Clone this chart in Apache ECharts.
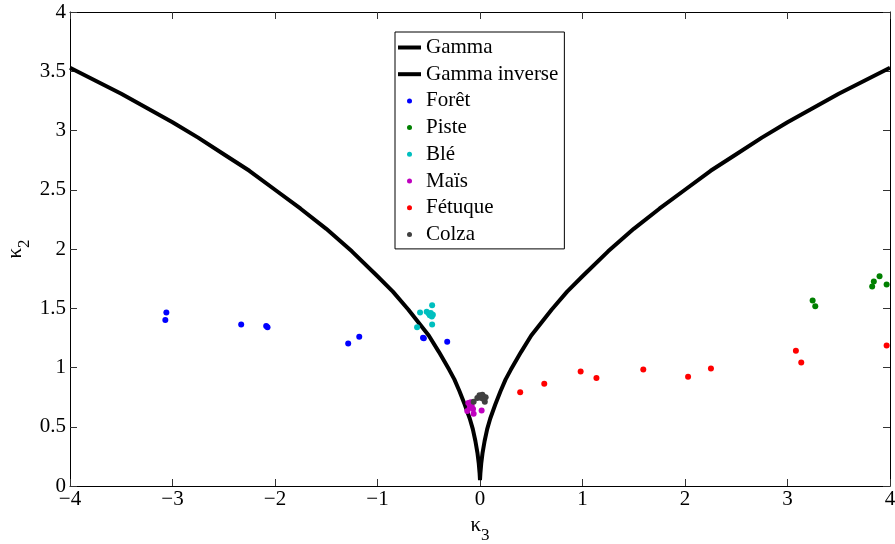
<!DOCTYPE html>
<html>
<head>
<meta charset="utf-8">
<title>kappa3 - kappa2</title>
<script src="https://cdn.jsdelivr.net/npm/echarts/dist/echarts.min.js"></script>
<style>
  html, body { margin: 0; padding: 0; background: #fff; }
  #chart { width: 895px; height: 544px; }
</style>
</head>
<body>
<div id="chart"></div>
<script>
// courbes théoriques (kappa3, kappa2)
var gammaCurve = [
  [-4, 3.53], [-3.75, 3.42], [-3.5, 3.31], [-3.25, 3.19], [-3, 3.07], [-2.75, 2.94],
  [-2.5, 2.8], [-2.25, 2.66], [-2, 2.5], [-1.75, 2.34], [-1.5, 2.17], [-1.25, 1.98],
  [-1, 1.77], [-0.85, 1.64], [-0.7, 1.49], [-0.6, 1.38], [-0.5, 1.27], [-0.4, 1.13],
  [-0.3, 0.98], [-0.25, 0.9], [-0.2, 0.8], [-0.15, 0.69], [-0.1, 0.57], [-0.07, 0.48],
  [-0.045, 0.38], [-0.025, 0.28], [-0.012, 0.19], [-0.004, 0.11], [0, 0.05]
];
var gammaInvCurve = [
  [0, 0.05], [0.004, 0.11], [0.012, 0.19], [0.025, 0.28], [0.045, 0.38], [0.07, 0.48],
  [0.1, 0.57], [0.15, 0.69], [0.2, 0.8], [0.25, 0.9], [0.3, 0.98], [0.4, 1.13],
  [0.5, 1.27], [0.6, 1.38], [0.7, 1.49], [0.85, 1.64], [1, 1.77], [1.25, 1.98],
  [1.5, 2.17], [1.75, 2.34], [2, 2.5], [2.25, 2.66], [2.5, 2.8], [2.75, 2.94],
  [3, 3.07], [3.25, 3.19], [3.5, 3.31], [3.75, 3.42], [4, 3.53]
];

// mesures par culture
var foret = [
  [-3.06, 1.464], [-3.07, 1.40], [-2.33, 1.362], [-2.086, 1.35], [-2.073, 1.339],
  [-1.286, 1.203], [-1.178, 1.26], [-0.556, 1.251], [-0.548, 1.246], [-0.32, 1.218]
];
var piste = [
  [3.245, 1.565], [3.271, 1.517], [3.826, 1.684], [3.842, 1.726], [3.898, 1.771], [3.967, 1.701]
];
var ble = [
  [-0.585, 1.464], [-0.614, 1.339], [-0.467, 1.525], [-0.52, 1.47], [-0.5, 1.455],
  [-0.48, 1.46], [-0.46, 1.445], [-0.47, 1.43], [-0.467, 1.362], [-0.49, 1.44]
];
var mais = [
  [-0.114, 0.70], [-0.091, 0.706], [-0.081, 0.678], [-0.124, 0.633], [-0.068, 0.65],
  [-0.062, 0.61], [0.016, 0.638], [-0.1, 0.66]
];
var fetuque = [
  [0.392, 0.791], [0.627, 0.862], [0.982, 0.966], [1.136, 0.912], [1.593, 0.983],
  [2.03, 0.921], [2.253, 0.992], [3.082, 1.141], [3.134, 1.042], [3.967, 1.186]
];
var colza = [
  [-0.062, 0.71], [-0.026, 0.743], [-0.005, 0.765], [0.023, 0.771], [0.03, 0.757],
  [0.055, 0.748], [0.047, 0.71], [0.013, 0.742], [0.035, 0.735]
];

var serif = 'Liberation Serif';
var minus = function (v) { return String(v).replace('-', '\u2212'); };

var chart = echarts.init(document.getElementById('chart'));

function scatter(name, data, color) {
  return {
    name: name,
    type: 'scatter',
    data: data,
    symbol: 'circle',
    symbolSize: 6,
    itemStyle: { color: color, opacity: 1 },
    z: 3
  };
}

function curve(name, data) {
  return {
    name: name,
    type: 'line',
    data: data,
    showSymbol: false,
    symbol: 'none',
    smooth: false,
    itemStyle: { color: '#000' },
    lineStyle: { color: '#000', width: 4, join: 'round' },
    z: 2
  };
}

var subRich = {
  k: { fontFamily: serif, fontSize: 21, fill: '#000', color: '#000', verticalAlign: 'top' },
  s: { fontFamily: serif, fontSize: 17, fill: '#000', color: '#000', padding: [12, 0, 0, 0] }
};

var option = {
  animation: false,
  backgroundColor: '#fff',
  grid: { left: 70, right: 5, top: 12, bottom: 58, containLabel: false, outerBoundsMode: 'none' },
  // nom de l'axe vertical, tourné
  graphic: [{
    type: 'text',
    x: 19,
    y: 249,
    rotation: Math.PI / 2,
    style: {
      text: '{k|κ}{s|2}',
      rich: subRich,
      align: 'center',
      verticalAlign: 'middle'
    }
  }],
  legend: {
    orient: 'vertical',
    left: 395,
    top: 32,
    padding: [5, 6, 4, 3],
    itemGap: 5.7,
    itemWidth: 23,
    itemHeight: 5,
    borderColor: '#000',
    borderWidth: 1,
    backgroundColor: '#fff',
    textStyle: { fontFamily: serif, fontSize: 21, color: '#000', lineHeight: 21 },
    data: [
      { name: 'Gamma', icon: 'path://M0 0H23V4H0Z' },
      { name: 'Gamma inverse', icon: 'path://M0 0H23V4H0Z' },
      { name: 'Forêt', icon: 'circle' },
      { name: 'Piste', icon: 'circle' },
      { name: 'Blé', icon: 'circle' },
      { name: 'Maïs', icon: 'circle' },
      { name: 'Fétuque', icon: 'circle' },
      { name: 'Colza', icon: 'circle' }
    ]
  },
  xAxis: [{
    type: 'value',
    min: -4, max: 4, interval: 1,
    name: '{k|κ}{s|3}',
    nameLocation: 'middle',
    nameGap: 21,
    nameTextStyle: { rich: subRich },
    axisLine: { show: true, onZero: false, lineStyle: { color: '#000', width: 1 } },
    axisTick: { show: true, inside: true, length: 7, lineStyle: { color: '#333' } },
    axisLabel: { fontFamily: serif, fontSize: 21, color: '#000', margin: 3, formatter: minus },
    splitLine: { show: false }
  }, {
    type: 'value',
    position: 'top',
    min: -4, max: 4, interval: 1,
    axisLine: { show: true, onZero: false, lineStyle: { color: '#000', width: 1 } },
    axisTick: { show: true, inside: true, length: 7, lineStyle: { color: '#333' } },
    axisLabel: { show: false },
    splitLine: { show: false }
  }],
  yAxis: [{
    type: 'value',
    min: 0, max: 4, interval: 0.5,
    axisLine: { show: true, onZero: false, lineStyle: { color: '#000', width: 1 } },
    axisTick: { show: true, inside: true, length: 7, lineStyle: { color: '#333' } },
    axisLabel: { fontFamily: serif, fontSize: 21, color: '#000', margin: 4 },
    splitLine: { show: false }
  }, {
    type: 'value',
    position: 'right',
    min: 0, max: 4, interval: 0.5,
    axisLine: { show: true, onZero: false, lineStyle: { color: '#000', width: 1 } },
    axisTick: { show: true, inside: true, length: 7, lineStyle: { color: '#333' } },
    axisLabel: { show: false },
    splitLine: { show: false }
  }],
  series: [
    curve('Gamma', gammaCurve),
    curve('Gamma inverse', gammaInvCurve),
    scatter('Forêt', foret, '#0000ff'),
    scatter('Piste', piste, '#008000'),
    scatter('Blé', ble, '#00bfbf'),
    scatter('Maïs', mais, '#bf00bf'),
    scatter('Fétuque', fetuque, '#ff0000'),
    scatter('Colza', colza, '#404040')
  ]
};

chart.setOption(option);
</script>
</body>
</html>
